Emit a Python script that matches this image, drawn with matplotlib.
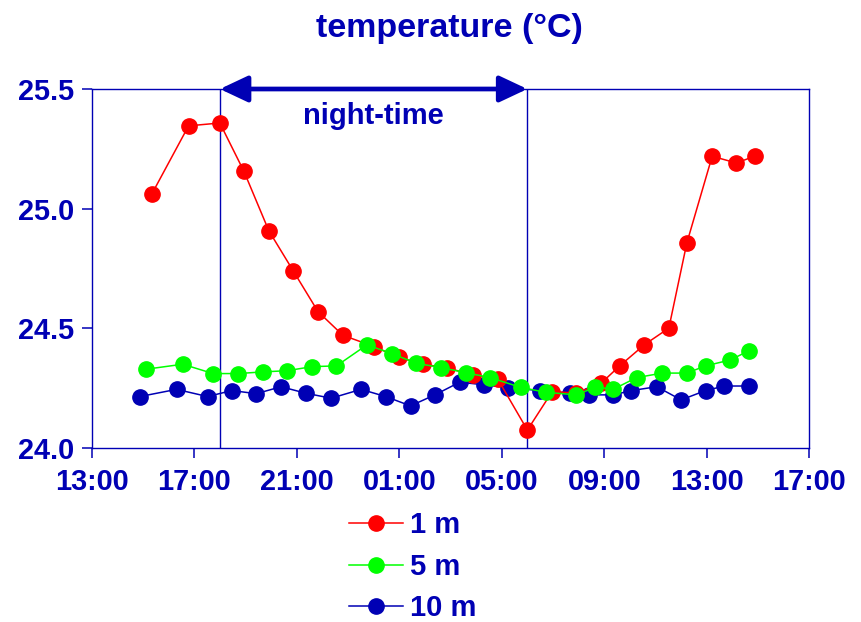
import matplotlib
matplotlib.use("Agg")
import matplotlib.pyplot as plt
from matplotlib.patches import FancyArrowPatch

plt.rcParams['font.family'] = ['Liberation Sans', 'DejaVu Sans']
plt.rcParams['font.weight'] = 'bold'

# x values: hours elapsed since 13:00 on day 1
t_1m = [2.34, 3.78, 5.00, 5.94, 6.91, 7.87, 8.83, 9.80, 11.01, 11.98, 12.93, 13.86,
        14.88, 15.85, 17.00, 17.97, 18.91, 19.88, 20.60, 21.56, 22.52, 23.22, 24.21,
        25.15, 25.87]
temp_1m = [25.06, 25.346, 25.358, 25.156, 24.908, 24.739, 24.570, 24.471, 24.424,
           24.379, 24.350, 24.335, 24.305, 24.287, 24.075, 24.236, 24.229, 24.271,
           24.343, 24.431, 24.501, 24.856, 25.219, 25.191, 25.219]

t_5m = [2.11, 3.55, 4.74, 5.71, 6.68, 7.63, 8.60, 9.55, 10.74, 11.72, 12.67, 13.63,
        14.59, 15.55, 16.75, 17.71, 18.91, 19.65, 20.36, 21.26, 22.26, 23.22, 23.95,
        24.92, 25.64]
temp_5m = [24.329, 24.350, 24.311, 24.311, 24.318, 24.323, 24.340, 24.343, 24.431,
           24.394, 24.354, 24.336, 24.315, 24.294, 24.253, 24.233, 24.222, 24.254,
           24.246, 24.294, 24.313, 24.313, 24.343, 24.368, 24.406]

t_10m = [1.88, 3.31, 4.52, 5.47, 6.42, 7.39, 8.35, 9.34, 10.51, 11.47, 12.44, 13.39,
         14.36, 15.31, 16.24, 17.48, 18.68, 19.41, 20.35, 21.06, 22.05, 23.00, 23.95,
         24.69, 25.64]
temp_10m = [24.215, 24.245, 24.215, 24.240, 24.227, 24.256, 24.229, 24.208, 24.245,
            24.215, 24.176, 24.222, 24.275, 24.264, 24.252, 24.240, 24.229, 24.222,
            24.222, 24.240, 24.256, 24.201, 24.240, 24.259, 24.259]

x_ticks = [0, 4, 8, 12, 16, 20, 24, 28]
x_tick_labels = ["13:00", "17:00", "21:00", "01:00", "05:00", "09:00", "13:00", "17:00"]
y_ticks = [24.0, 24.5, 25.0, 25.5]
y_tick_labels = ["24.0", "24.5", "25.0", "25.5"]
night_start, night_end = 5, 17   # 18:00 and 06:00
series_labels = ["1 m", "5 m", "10 m"]

BLUE = '#0000B4'
RED = '#FF0000'
GREEN = '#00FF00'

fig = plt.figure(figsize=(8.61, 6.22), dpi=100)
ax = fig.add_axes([91.7/861, 1-448/622, (809.3-91.7)/861, (448-89)/622])

ms = 11
lw = 1.1
h1, = ax.plot(t_1m, temp_1m, '-o', color=RED, ms=ms, lw=lw, mec=RED, zorder=3)
h2, = ax.plot(t_5m, temp_5m, '-o', color=GREEN, ms=ms, lw=lw, mec=GREEN, zorder=4)
h3, = ax.plot(t_10m, temp_10m, '-o', color=BLUE, ms=ms, lw=lw, mec=BLUE, zorder=2)

ax.set_xlim(0, 28)
ax.set_ylim(24.0, 25.5)
ax.set_xticks(x_ticks)
ax.set_xticklabels(x_tick_labels)
ax.set_yticks(y_ticks)
ax.set_yticklabels(y_tick_labels)

for s in ax.spines.values():
    s.set_color(BLUE)
    s.set_linewidth(1.0)
ax.tick_params(axis='both', colors=BLUE, labelcolor=BLUE, length=7.2, width=1.1,
               direction='out', labelsize=20.8)
ax.tick_params(axis='y', pad=5.5)
ax.tick_params(axis='x', pad=7.5)
for lab in ax.get_xticklabels() + ax.get_yticklabels():
    lab.set_fontweight('bold')

# night-time markers
for xv in (night_start, night_end):
    ax.axvline(xv, color=BLUE, lw=1.0, zorder=1)

arrow = FancyArrowPatch((night_start, 25.5), (night_end, 25.5),
                        arrowstyle='<|-|>,head_length=17,head_width=8',
                        mutation_scale=1, color=BLUE, lw=3.4, shrinkA=0, shrinkB=0,
                        clip_on=False, zorder=6)
ax.add_patch(arrow)
ax.text((night_start + night_end) / 2, 25.5 - 0.112, "night-time", color=BLUE,
        fontsize=21, fontweight='bold', ha='center', va='center')

fig.text(449/861, 1-28/622, "temperature (°C)", color=BLUE, fontsize=24.5,
         fontweight='bold', ha='center', va='center')

leg = fig.legend([h1, h2, h3], series_labels, loc='upper left',
                 bbox_to_anchor=(349/861, 1-511/622), frameon=False,
                 fontsize=21, handlelength=1.85, handletextpad=0.24,
                 labelspacing=0.47, borderpad=0, borderaxespad=0, numpoints=1)
for txt in leg.get_texts():
    txt.set_color(BLUE)
    txt.set_fontweight('bold')

fig.savefig('out.png', dpi=100)
